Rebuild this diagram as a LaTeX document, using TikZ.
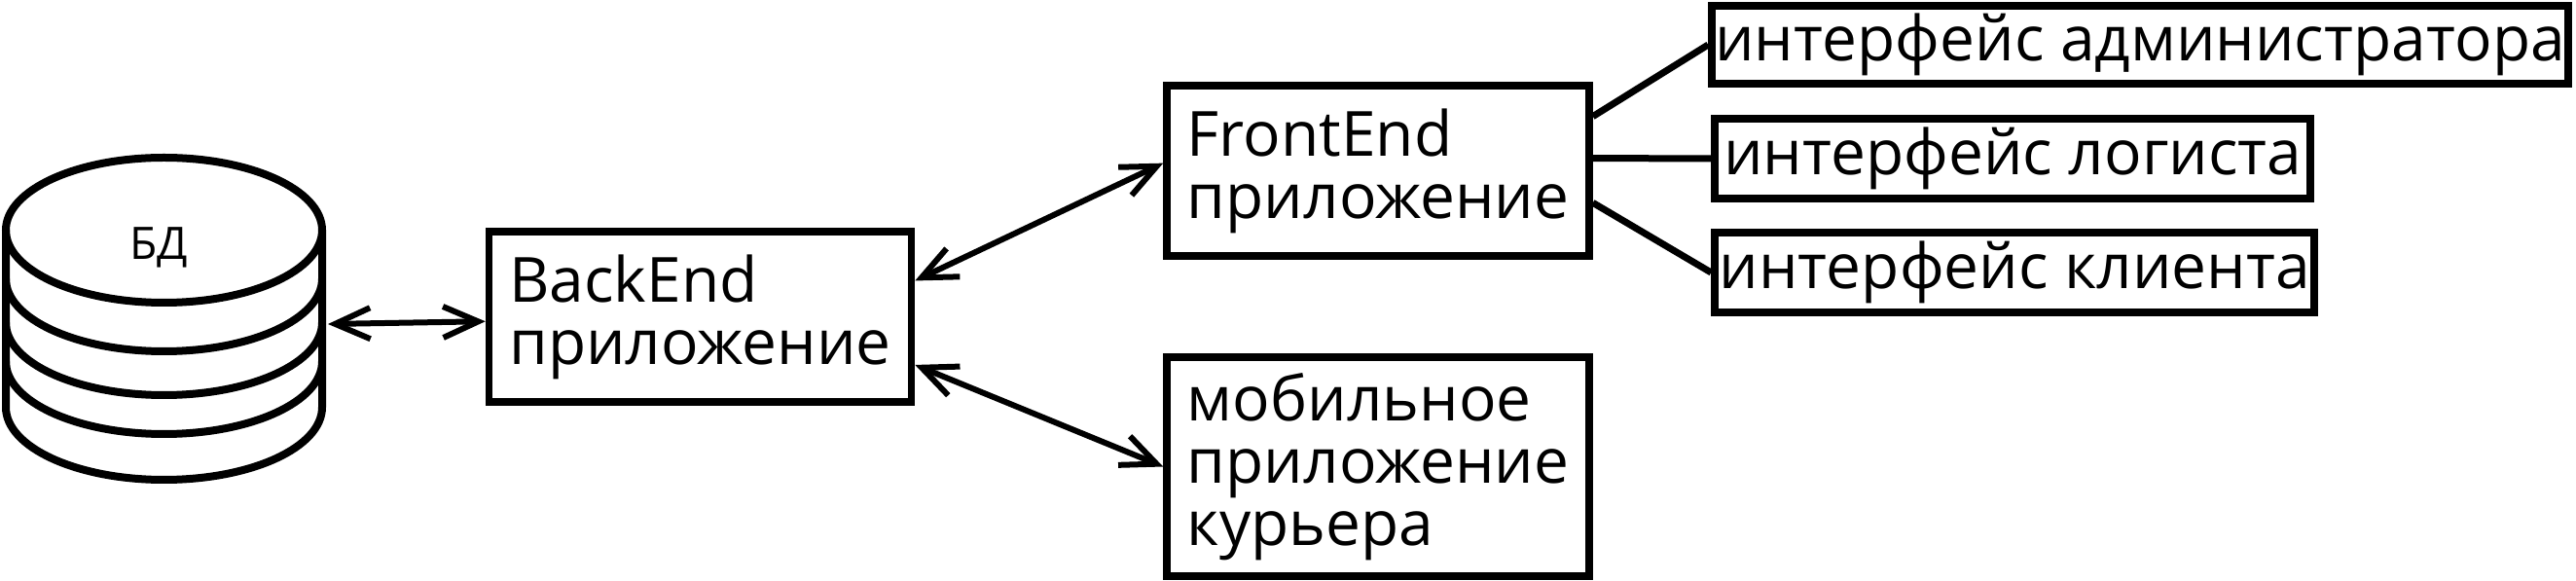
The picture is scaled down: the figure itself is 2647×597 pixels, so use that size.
\documentclass[tikz,border=0pt]{standalone}
\usepackage{fontspec}
\setmainfont{Open Sans}
\usetikzlibrary{arrows.meta,calc}
\begin{document}
\begin{tikzpicture}[x=0.5pt,y=-0.5pt,
  box/.style={draw, line width=3.75pt, align=left, font=\fontsize{32}{32}\selectfont, inner sep=0pt},
  link/.style={line width=3.5pt},
  cyl/.style={line width=4pt},
  biarrow/.style={line width=3pt, {Straight Barb[length=18pt,width=16pt]}-{Straight Barb[length=18pt,width=16pt]}}]
\fill[white] (0,0) rectangle (2647,597);
\useasboundingbox (0,0) rectangle (2647,597);
% database cylinder
\draw[cyl] (6,236.5) -- (6,418.5) arc[start angle=180,end angle=360,x radius=81.25pt,y radius=37.25pt] -- (331,236.5);
\draw[cyl] (168.5,236.5) ellipse[x radius=81.25pt,y radius=37.25pt];
\foreach \c in {286.5,331.5,371.5}{
  \draw[cyl] (6,\c) arc[start angle=180,end angle=360,x radius=81.25pt,y radius=37.25pt];
}
\node[font=\fontsize{23}{24}\selectfont, anchor=base, inner sep=0pt] (bd) at (163,267) {БД};
\coordinate (dbR) at (337,333);
% boxes
\node[box, minimum width=217pt, minimum height=87.5pt] (be) at (719.5,325.5) {BackEnd\\приложение};
\node[box, minimum width=217pt, minimum height=87.5pt] (fe) at (1416,175.5) {FrontEnd\\приложение};
\node[box, minimum width=217pt, minimum height=112.5pt] (mob) at (1416,479.5) {мобильное\\приложение\\курьера};
\node[box, minimum width=440pt, minimum height=40pt] (adm) at (2199,46) {интерфейс администратора};
\node[box, minimum width=306pt, minimum height=41pt] (log) at (2068,163) {интерфейс логиста};
\node[box, minimum width=308pt, minimum height=41pt] (cli) at (2070,280) {интерфейс клиента};
% arrows
\draw[biarrow] (dbR) -- ($(be.north west)!0.526!(be.south west)$);
\draw[biarrow] ($(be.north east)!0.297!(be.south east)$) -- ($(fe.north west)!0.457!(fe.south west)$);
\draw[biarrow] ($(be.north east)!0.771!(be.south east)$) -- (mob.west);
% links
\draw[link] ($(fe.north east)!0.194!(fe.south east)$) -- (adm.west);
\draw[link] ($(fe.north east)!0.429!(fe.south east)$) -- (log.west);
\draw[link] ($(fe.north east)!0.68!(fe.south east)$) -- (cli.west);
\end{tikzpicture}
\end{document}
